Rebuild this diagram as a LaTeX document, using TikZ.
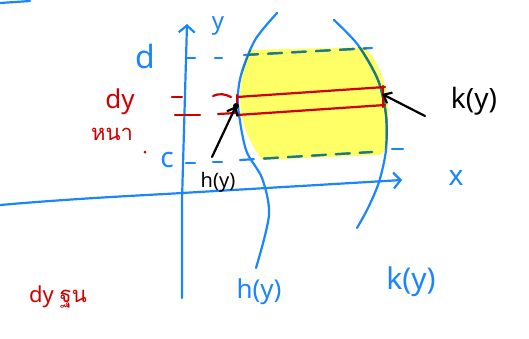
\documentclass[tikz,border=0pt]{standalone}
\usepackage{fontspec}
\setmainfont{Noto Sans}
\newfontfamily\thaifont[Script=Thai]{Loma}
\usetikzlibrary{arrows.meta}
\definecolor{pen}{HTML}{1A85FF}
\definecolor{redpen}{HTML}{D10000}
\definecolor{tealpen}{HTML}{1E7A7A}
\definecolor{hl}{HTML}{FFFF55}
\tikzset{
  bstroke/.style={draw=pen,line width=2.2pt,line cap=round,line join=round},
  rstroke/.style={draw=redpen,line width=2.2pt,line cap=round},
  kstroke/.style={draw=black,line width=2.2pt,line cap=round},
  dashline/.style={line width=2.2pt,dash pattern=on 14pt off 10pt,line cap=round},
  lbl/.style={inner sep=0pt,font=\fontsize{22}{22}\selectfont},
  axtip/.style={-{Straight Barb[length=7pt,width=16pt,line width=2.2pt]}}
}
\begin{document}
\begin{tikzpicture}[x=1pt,y=-1pt]
\useasboundingbox (0,0) rectangle (529,338);
% yellow strip region
\def\region{(250,50) -- (365,47) .. controls (382,65) and (390,95) .. (388,120) .. controls (388,140) and (388,150) .. (380,155) -- (262,160) .. controls (248,140) and (240,120) .. (240,100) .. controls (240,80) and (244,62) .. (250,50) -- cycle}
\fill[hl,opacity=0.9] \region;
% curves
\draw[bstroke] plot[smooth] coordinates {(277,13) (255,40) (241,75) (238,105) (246,150) (262,178) (269,215) (256,268)};
\draw[bstroke] plot[smooth] coordinates {(334,20) (358,45) (378,80) (386,115) (386,150) (379,182) (368,208) (357,228)};
% dashed limits
\draw[bstroke,dashline] (244,55) -- (372,48);
\draw[bstroke,dashline] (240,160) -- (372,152);
\draw[bstroke] (392,149) -- (403,149);
% teal overlay inside the region
\begin{scope}
\clip \region;
\draw[draw=tealpen,line width=2.2pt] plot[smooth] coordinates {(277,13) (255,40) (241,75) (238,105) (246,150) (262,178) (269,215) (256,268)};
\draw[draw=tealpen,line width=2.2pt] plot[smooth] coordinates {(334,20) (358,45) (378,80) (386,115) (386,150) (379,182) (368,208) (357,228)};
\draw[draw=tealpen,dashline] (244,55) -- (372,48);
\draw[draw=tealpen,dashline] (240,160) -- (372,152);
\end{scope}
% axes
\coordinate (ybot) at (182,298);
\coordinate (ytop) at (187,24);
\draw[bstroke,axtip] (ybot) -- (182,200) -- (ytop);
\coordinate (xleft) at (0,205);
\coordinate (xright) at (402,180);
\draw[bstroke,axtip] (xleft) .. controls (80,198) and (150,195) .. (182,193) -- (xright);
\draw[bstroke] (0,3) -- (30,1);
% ticks
\draw[bstroke] (186,58) -- (195,58);
\draw[bstroke] (215,58) -- (222,58);
\draw[bstroke] (186,163) -- (195,163);
\draw[bstroke] (213,162) -- (222,162);
% red strip
\draw[rstroke] (172,97) -- (182,97);
\draw[rstroke] (213,96) .. controls (219,93) and (225,94) .. (231,97);
\draw[rstroke] (175,115) -- (200,115);
\draw[rstroke] (218,114) -- (236,113);
\coordinate (sl1) at (237,97);
\coordinate (sl2) at (237,115);
\coordinate (sr1) at (385,87);
\coordinate (sr2) at (385,105);
\draw[rstroke] (sl1) -- (sr1);
\draw[rstroke] (sl2) -- (sr2);
\draw[rstroke] (237,95) -- (237,108);
\draw[rstroke] (383,86) -- (383,107);
% black points and arrows
\coordinate (hpt) at (236,106);
\fill (hpt) circle (3pt);
\coordinate (kpt) at (382,94);
\node[lbl,font=\fontsize{20}{20}\selectfont] (hlab) at (218,182) {h(y)};
\node[lbl,font=\fontsize{28}{28}\selectfont] (klab) at (474,101) {k(y)};
\coordinate (hfrom) at (212,157);
\coordinate (kfrom) at (425,116);
\draw[kstroke,-{Straight Barb[length=7pt,width=12pt,line width=2.2pt]}] (hfrom) -- (hpt);
\draw[kstroke,-{Straight Barb[length=7pt,width=12pt,line width=2.2pt]}] (kfrom) -- (kpt);
% blue labels
\node[lbl,text=pen,font=\fontsize{24}{24}\selectfont] (ylab) at (218,26) {y};
\node[lbl,text=pen,font=\fontsize{32}{32}\selectfont] (dlab) at (145,56) {d};
\node[lbl,text=pen,font=\fontsize{28}{28}\selectfont] (clab) at (167,160) {c};
\node[lbl,text=pen,font=\fontsize{28}{28}\selectfont] (xlab) at (456,178) {x};
\node[lbl,text=pen,font=\fontsize{26}{26}\selectfont] (hylab) at (259,292) {h(y)};
\node[lbl,text=pen,font=\fontsize{30}{30}\selectfont] (kylab) at (411,282) {k(y)};
% red labels
\node[lbl,text=redpen,font=\fontsize{26}{26}\selectfont] (dylab) at (120,102) {dy};
\node[lbl,text=redpen,font=\thaifont\fontsize{22}{22}\selectfont] (thlab) at (112,134) {หนา};
\node[circle,fill=redpen,inner sep=0pt,minimum size=3pt] (rdot) at (145,152) {};
\node[lbl,text=redpen,font=\fontsize{22}{22}\selectfont] (botlab) at (58,297) {dy {\thaifont ฐน}};
\end{tikzpicture}
\end{document}
